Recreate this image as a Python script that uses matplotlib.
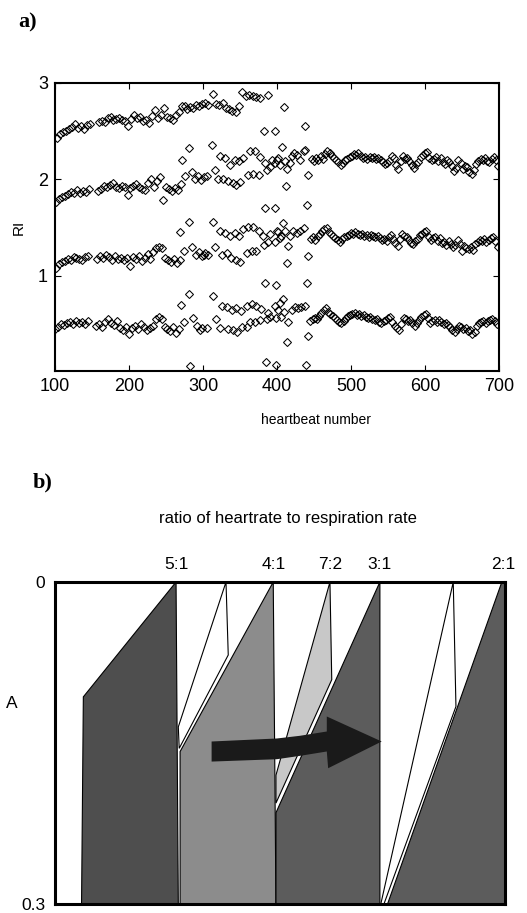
import numpy as np
import matplotlib.pyplot as plt
from matplotlib.patches import Polygon

plt.rcParams['font.family'] = ['Liberation Sans', 'DejaVu Sans']

# ---------- a) RI of every heartbeat ----------
# 4:1 locking, beats 100-147, one point every 4th beat in each band
lock4_first_start = [100, 101, 102, 103]
ri4_first_b1 = [0.45, 0.47, 0.50, 0.49, 0.51, 0.52, 0.50, 0.53, 0.51, 0.52, 0.50, 0.53]
ri4_first_b2 = [1.08, 1.12, 1.14, 1.15, 1.17, 1.16, 1.19, 1.18, 1.17, 1.16, 1.19, 1.20]
ri4_first_b3 = [1.76, 1.80, 1.82, 1.83, 1.85, 1.87, 1.86, 1.89, 1.86, 1.88, 1.87, 1.90]
ri4_first_b4 = [2.43, 2.47, 2.49, 2.50, 2.52, 2.54, 2.57, 2.53, 2.55, 2.52, 2.56, 2.57]

# 4:1 locking, beats 156-271
lock4_second_start = [156, 157, 158, 159]
ri4_second_b1 = [0.48, 0.50, 0.47, 0.52, 0.55, 0.51, 0.49, 0.53, 0.46, 0.44, 0.47, 0.39, 0.46, 0.48, 0.45,
                 0.50, 0.47, 0.44, 0.46, 0.48, 0.55, 0.57, 0.55, 0.47, 0.45, 0.43, 0.47, 0.40, 0.45]
ri4_second_b2 = [1.17, 1.20, 1.18, 1.21, 1.19, 1.16, 1.20, 1.17, 1.18, 1.16, 1.18, 1.10, 1.19, 1.17, 1.20,
                 1.15, 1.18, 1.22, 1.17, 1.25, 1.29, 1.30, 1.29, 1.18, 1.16, 1.14, 1.17, 1.13, 1.16]
ri4_second_b3 = [1.88, 1.90, 1.93, 1.92, 1.94, 1.96, 1.92, 1.91, 1.93, 1.92, 1.84, 1.91, 1.93, 1.95, 1.92,
                 1.90, 1.89, 1.96, 2.00, 1.92, 1.98, 2.02, 1.79, 1.92, 1.90, 1.88, 1.91, 1.89, 1.95]
ri4_second_b4 = [2.59, 2.61, 2.60, 2.64, 2.65, 2.62, 2.63, 2.64, 2.62, 2.61, 2.55, 2.63, 2.67, 2.64, 2.65,
                 2.61, 2.62, 2.58, 2.66, 2.72, 2.64, 2.67, 2.74, 2.65, 2.64, 2.62, 2.67, 2.70, 2.76]

# transition, beats 269-442 (beat, RI)
trans_b1 = [(270, 0.70), (274, 0.52), (281, 0.81), (283, 0.06), (287, 0.56), (292, 0.48), (296, 0.44),
            (299, 0.46), (305, 0.46), (314, 0.79), (318, 0.55), (323, 0.46), (325, 0.69), (332, 0.67),
            (334, 0.45), (339, 0.64), (340, 0.44), (345, 0.66), (346, 0.42), (352, 0.63), (353, 0.47),
            (359, 0.68), (360, 0.47), (363, 0.52), (366, 0.71), (370, 0.52), (372, 0.68), (377, 0.54),
            (379, 0.65), (384, 0.92), (385, 0.10), (386, 0.55), (388, 0.61), (391, 0.57), (397, 0.68),
            (398, 0.56), (399, 0.90), (399, 0.07), (401, 0.64), (404, 0.72), (405, 0.57), (408, 0.76),
            (410, 0.62), (413, 0.31), (415, 0.52), (420, 0.64), (424, 0.67), (429, 0.66), (433, 0.67),
            (438, 0.69), (439, 0.07), (441, 0.92), (442, 0.37)]
trans_b2 = [(269, 1.45), (274, 1.26), (281, 1.56), (285, 1.30), (290, 1.21), (294, 1.25), (298, 1.20),
            (301, 1.21), (303, 1.23), (307, 1.21), (314, 1.56), (316, 1.30), (323, 1.46), (325, 1.21),
            (330, 1.44), (332, 1.23), (336, 1.41), (338, 1.18), (343, 1.44), (345, 1.16), (348, 1.41),
            (350, 1.14), (354, 1.48), (359, 1.23), (361, 1.51), (366, 1.26), (368, 1.51), (372, 1.26),
            (375, 1.46), (381, 1.41), (382, 1.32), (388, 1.35), (390, 1.43), (397, 1.35), (400, 1.46),
            (402, 1.45), (404, 1.39), (406, 1.41), (408, 1.55), (411, 1.46), (413, 1.13), (415, 1.31),
            (418, 1.41), (422, 1.46), (427, 1.44), (431, 1.46), (436, 1.49), (440, 1.73), (442, 1.20)]
trans_b3 = [(272, 2.20), (276, 2.03), (281, 2.32), (285, 2.08), (289, 2.00), (293, 2.03), (297, 1.99),
            (301, 2.02), (305, 2.03), (312, 2.36), (316, 2.10), (320, 2.00), (323, 2.24), (327, 2.00),
            (330, 2.22), (334, 1.98), (337, 2.15), (341, 1.96), (343, 2.20), (345, 1.94), (348, 2.19),
            (350, 1.97), (354, 2.22), (361, 2.05), (363, 2.29), (368, 2.06), (370, 2.29), (375, 2.05),
            (377, 2.23), (384, 2.17), (384, 1.70), (386, 2.10), (391, 2.13), (393, 2.20), (397, 2.17),
            (397, 1.70), (400, 2.20), (402, 2.22), (404, 2.15), (407, 2.34), (411, 2.19), (412, 1.93),
            (414, 2.11), (418, 2.17), (420, 2.24), (423, 2.27), (427, 2.25), (431, 2.20), (436, 2.29),
            (438, 2.30), (442, 2.04)]
trans_b4 = [(275, 2.76), (279, 2.73), (283, 2.75), (287, 2.74), (291, 2.77), (295, 2.76), (299, 2.78),
            (303, 2.79), (307, 2.77), (314, 2.89), (318, 2.78), (322, 2.77), (327, 2.79), (331, 2.74),
            (335, 2.73), (339, 2.71), (344, 2.70), (349, 2.76), (353, 2.91), (358, 2.86), (362, 2.88),
            (367, 2.87), (372, 2.85), (377, 2.84), (383, 2.50), (388, 2.88), (397, 2.50), (410, 2.75),
            (438, 2.55)]

# 3:1 locking, beats 445-699, one point every 3rd beat in each band
lock3_start = [445, 446, 447]
ri3_b1 = [0.53, 0.55, 0.56, 0.55, 0.58, 0.61, 0.64, 0.66, 0.62, 0.60,
          0.58, 0.56, 0.54, 0.52, 0.51, 0.53, 0.56, 0.58, 0.59, 0.60,
          0.61, 0.59, 0.60, 0.58, 0.59, 0.57, 0.56, 0.57, 0.55, 0.54,
          0.55, 0.52, 0.51, 0.53, 0.54, 0.56, 0.57, 0.52, 0.48, 0.46,
          0.44, 0.50, 0.56, 0.55, 0.53, 0.54, 0.51, 0.48, 0.51, 0.54,
          0.57, 0.59, 0.60, 0.56, 0.51, 0.53, 0.54, 0.52, 0.54, 0.52,
          0.50, 0.51, 0.49, 0.47, 0.44, 0.41, 0.45, 0.48, 0.47, 0.45,
          0.46, 0.43, 0.44, 0.39, 0.42, 0.48, 0.51, 0.52, 0.53, 0.51,
          0.53, 0.54, 0.55, 0.53, 0.50]
ri3_b2 = [1.38, 1.40, 1.37, 1.41, 1.43, 1.46, 1.48, 1.49, 1.45, 1.43,
          1.41, 1.39, 1.37, 1.35, 1.38, 1.40, 1.41, 1.42, 1.44, 1.43,
          1.45, 1.43, 1.42, 1.43, 1.41, 1.42, 1.40, 1.42, 1.41, 1.40,
          1.41, 1.39, 1.37, 1.38, 1.36, 1.40, 1.42, 1.38, 1.34, 1.31,
          1.38, 1.43, 1.41, 1.40, 1.37, 1.34, 1.33, 1.36, 1.38, 1.42,
          1.43, 1.45, 1.46, 1.40, 1.37, 1.39, 1.40, 1.36, 1.39, 1.34,
          1.35, 1.32, 1.36, 1.33, 1.30, 1.32, 1.37, 1.33, 1.26, 1.31,
          1.29, 1.28, 1.30, 1.27, 1.33, 1.35, 1.37, 1.36, 1.38, 1.35,
          1.37, 1.39, 1.40, 1.36, 1.30]
ri3_b3 = [2.21, 2.19, 2.22, 2.20, 2.24, 2.21, 2.26, 2.29, 2.27, 2.24,
          2.22, 2.20, 2.18, 2.15, 2.17, 2.20, 2.21, 2.23, 2.24, 2.26,
          2.25, 2.27, 2.24, 2.22, 2.23, 2.21, 2.23, 2.22, 2.23, 2.21,
          2.22, 2.20, 2.18, 2.16, 2.17, 2.19, 2.24, 2.22, 2.15, 2.11,
          2.19, 2.24, 2.21, 2.22, 2.19, 2.15, 2.12, 2.16, 2.18, 2.23,
          2.25, 2.27, 2.28, 2.22, 2.20, 2.21, 2.23, 2.19, 2.22, 2.18,
          2.16, 2.20, 2.18, 2.14, 2.09, 2.12, 2.20, 2.17, 2.11, 2.14,
          2.13, 2.08, 2.06, 2.10, 2.16, 2.19, 2.21, 2.20, 2.22, 2.19,
          2.18, 2.21, 2.23, 2.20, 2.14]

# ---------- b) tongue diagram ----------
ratio_labels = ['5:1', '4:1', '7:2', '3:1', '2:1']
ratio_pos = [0.269, 0.485, 0.611, 0.722, 0.995]

tongue_51 = [(0.063, 0.107), (0.269, 0.0), (0.274, 0.3), (0.059, 0.3)]
gap_51 = [(0.274, 0.135), (0.380, 0.0), (0.385, 0.068), (0.276, 0.155)]
tongue_41 = [(0.278, 0.158), (0.485, 0.0), (0.491, 0.3), (0.278, 0.3)]
tongue_72 = [(0.491, 0.180), (0.611, 0.0), (0.615, 0.091), (0.491, 0.206)]
tongue_31 = [(0.491, 0.215), (0.722, 0.0), (0.722, 0.3), (0.491, 0.3)]
gap_31 = [(0.724, 0.3), (0.885, 0.0), (0.891, 0.116), (0.731, 0.3)]
tongue_21 = [(0.739, 0.3), (0.993, 0.0), (1.0, 0.0), (1.0, 0.3)]
arrow = [(0.348, 0.1486), (0.493, 0.1458), (0.544, 0.1433), (0.604, 0.1393), (0.604, 0.1253),
         (0.726, 0.1486), (0.607, 0.1735), (0.604, 0.1579), (0.544, 0.1620), (0.493, 0.1651),
         (0.348, 0.1673)]

fig = plt.figure(figsize=(5.27, 9.13), dpi=100)

# ----- panel a -----
ax = fig.add_axes([55 / 527, 1 - 371 / 913, 444 / 527, 288 / 913])
mk = dict(ls='none', marker='D', ms=3.9, mfc='none', mec='black', mew=0.75)

for start, vals in zip(lock4_first_start, [ri4_first_b1, ri4_first_b2, ri4_first_b3, ri4_first_b4]):
    ax.plot(np.arange(start, start + 4 * len(vals), 4), vals, **mk)
for start, vals in zip(lock4_second_start, [ri4_second_b1, ri4_second_b2, ri4_second_b3, ri4_second_b4]):
    ax.plot(np.arange(start, start + 4 * len(vals), 4), vals, **mk)
for pts in [trans_b1, trans_b2, trans_b3, trans_b4]:
    bx, by = zip(*pts)
    ax.plot(bx, by, **mk)
for start, vals in zip(lock3_start, [ri3_b1, ri3_b2, ri3_b3]):
    ax.plot(np.arange(start, start + 3 * len(vals), 3), vals, **mk)

ax.set_xlim(100, 700)
ax.set_ylim(0.01, 3)
ax.set_xticks([100, 200, 300, 400, 500, 600, 700])
ax.set_yticks([1, 2, 3])
ax.tick_params(direction='in', top=True, right=True, length=4, width=0.8, labelsize=13, pad=5)
for s in ax.spines.values():
    s.set_linewidth(1.5)
ax.set_xlabel('heartbeat number', fontsize=10)
ax.xaxis.set_label_coords(0.588, -0.145)
ax.set_ylabel('RI', fontsize=11)
ax.yaxis.set_label_coords(-0.065, 0.5)

fig.text(28 / 527, 1 - 22 / 913, 'a)', family='Liberation Serif', weight='bold', fontsize=16,
         ha='center', va='center')

# ----- panel b -----
bx_ = fig.add_axes([55 / 527, 1 - 904 / 913, 450 / 527, 322 / 913])
bx_.set_xlim(0, 1)
bx_.set_ylim(0.3, 0)

for poly, col in [(tongue_51, '#4e4e4e'), (gap_51, 'white'), (tongue_41, '#8c8c8c'),
                  (tongue_72, '#c8c8c8'), (tongue_31, '#5c5c5c'), (gap_31, 'white'),
                  (tongue_21, '#5c5c5c')]:
    bx_.add_patch(Polygon(poly, closed=True, fc=col, ec='black', lw=0.8))
bx_.add_patch(Polygon(arrow, closed=True, fc='#1a1a1a', ec='none'))

bx_.set_yticks([0, 0.3])
bx_.set_yticklabels(['0', '0.3'])
bx_.xaxis.tick_top()
bx_.set_xticks(ratio_pos)
bx_.set_xticklabels(ratio_labels)
bx_.tick_params(length=0, labelsize=12.5, pad=7)
for s in bx_.spines.values():
    s.set_linewidth(2.2)
bx_.set_ylabel('A', rotation=0, fontsize=12.5)
bx_.yaxis.set_label_coords(-0.095, 0.60)

fig.text(288 / 527, 1 - 518 / 913, 'ratio of heartrate to respiration rate', fontsize=12,
         ha='center', va='center')
fig.text(43 / 527, 1 - 482 / 913, 'b)', family='Liberation Serif', weight='bold', fontsize=16,
         ha='center', va='center')

fig.savefig('out.png', dpi=100)
